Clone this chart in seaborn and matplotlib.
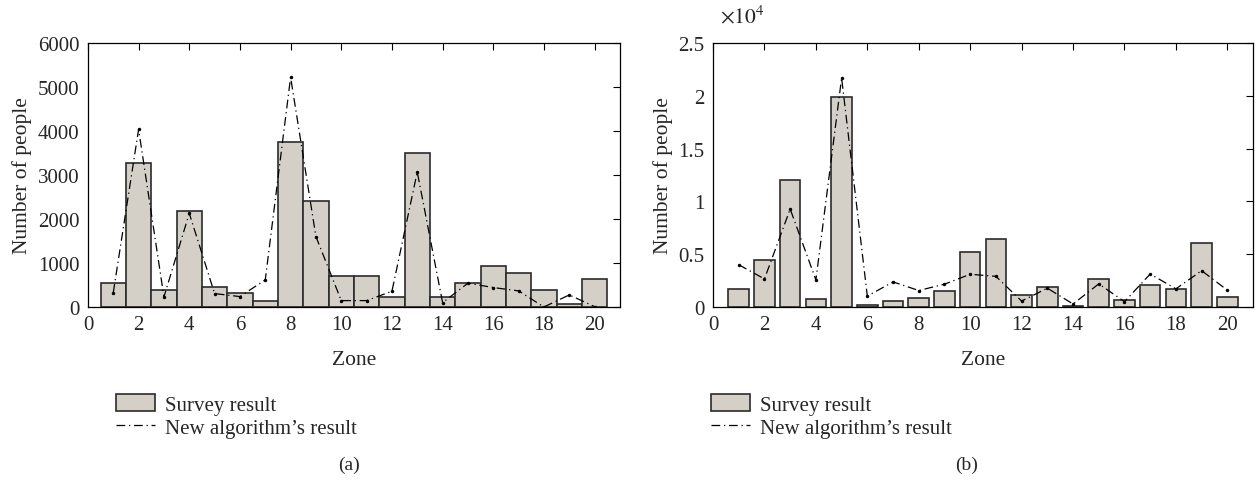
import seaborn as sns
import matplotlib.pyplot as plt
import pandas as pd
from matplotlib.patches import Patch
from matplotlib.lines import Line2D
from matplotlib.ticker import FuncFormatter

# valores
zones = list(range(1, 21))

survey_a = [540, 3280, 380, 2180, 465, 312, 145, 3750, 2420, 695,
            695, 228, 3510, 228, 540, 930, 770, 380, 69, 625]
algo_a = [327, 4040, 228, 2130, 305, 236, 617, 5225, 1600, 145,
          145, 358, 3070, 99, 541, 442, 366, 0, 274, 8]

survey_b = [1660, 4440, 12070, 720, 19850, 190, 530, 875, 1500, 5250,
            6400, 1125, 1900, 100, 2625, 625, 2090, 1690, 6100, 970]
algo_b = [4000, 2660, 9280, 2560, 21700, 1030, 2375, 1560, 2160, 3100,
          2900, 560, 1780, 280, 2190, 500, 3125, 1720, 3440, 1590]

bar_color = '#d4d0c8'
edge_color = '#2b2b2b'
estilo_linha = (0, (7, 3, 1, 3))

sns.set_style('white')
plt.rcParams['font.family'] = ['Liberation Serif', 'DejaVu Serif']
plt.rcParams['mathtext.fontset'] = 'stix'

fig = plt.figure(figsize=(12.6, 4.85), dpi=100)
ax_a = fig.add_axes([0.0698, 0.365, 0.4222, 0.544])
ax_b = fig.add_axes([0.5659, 0.365, 0.4286, 0.544])


def desenha(ax, survey, algo, largura):
    df = pd.DataFrame({'Zone': zones, 'Survey': survey, 'Algo': algo})
    sns.barplot(data=df, x='Zone', y='Survey', native_scale=True, width=largura,
                color=bar_color, saturation=1, edgecolor=edge_color,
                linewidth=1.2, errorbar=None, ax=ax)
    sns.lineplot(data=df, x='Zone', y='Algo', color='black', marker='o',
                 markersize=2.5, markeredgewidth=0, linewidth=0.9,
                 ls=estilo_linha, ax=ax)
    ax.set_xlim(0, 21)
    ax.set_xticks(range(0, 21, 2))
    ax.tick_params(direction='in', top=True, right=True, length=5,
                   width=0.8, labelsize=15, color='black', pad=6)
    for s in ax.spines.values():
        s.set_color('black')
        s.set_linewidth(0.9)
    ax.set_xlabel('Zone', fontsize=15.5, labelpad=11)
    ax.set_ylabel('Number of people', fontsize=15.5, labelpad=4)


desenha(ax_a, survey_a, algo_a, 1.0)
ax_a.set_ylim(0, 6000)
ax_a.set_yticks(range(0, 6001, 1000))

desenha(ax_b, survey_b, algo_b, 0.8)
ax_b.set_ylim(0, 25000)
ax_b.set_yticks([0, 5000, 10000, 15000, 20000, 25000])
ax_b.yaxis.set_major_formatter(FuncFormatter(lambda v, p: f'{v / 1e4:g}'))
ax_b.text(0.013, 1.06, r'$\times10^{4}$', transform=ax_b.transAxes,
          fontsize=15.5, ha='left', va='bottom')

handles = [Patch(facecolor=bar_color, edgecolor=edge_color, linewidth=1.2),
           Line2D([], [], color='black', linewidth=0.9, ls=estilo_linha)]
labels = ['Survey result', "New algorithm\u2019s result"]
for ax, letra, x0, xc in [(ax_a, '(a)', 0.052, 0.49), (ax_b, '(b)', -0.004, 0.47)]:
    ax.legend(handles, labels, loc='upper left', bbox_to_anchor=(x0, -0.33),
              frameon=False, fontsize=15, handlelength=1.9, handleheight=0.85,
              handletextpad=0.45, labelspacing=0.15, borderaxespad=0,
              borderpad=0)
    ax.text(xc, -0.595, letra, transform=ax.transAxes, fontsize=14,
            ha='center', va='center')

plt.savefig('out.png', dpi=100)
